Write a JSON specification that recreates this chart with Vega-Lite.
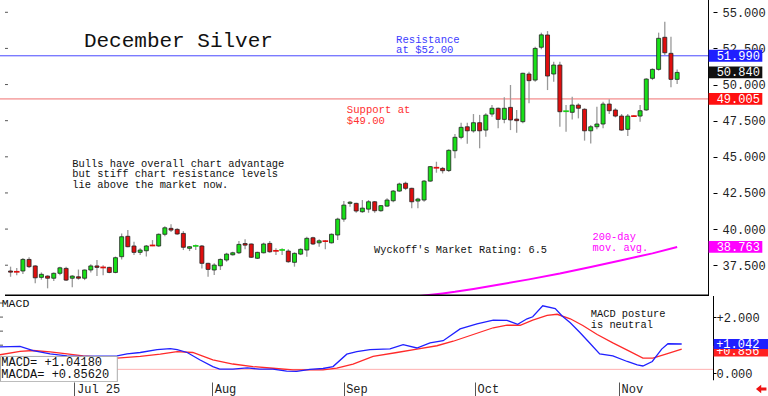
{
"$schema": "https://vega.github.io/schema/vega-lite/v6.json",
"padding": 0,
"spacing": 0,
"background": "white",
"config": {"view": {"stroke": null}, "font": "Liberation Mono", "text": {"font": "Liberation Mono"}, "axis": {"grid": false, "labelFont": "Liberation Mono", "labelFontSize": 12, "labelColor": "#222"}},
"datasets": {
"candles": [
{"i":1,"o":37.1,"h":37.4,"l":36.7,"c":37.02},{"i":2,"o":37.05,"h":37.3,"l":36.8,"c":37.04},{"i":3,"o":37.1,"h":38.0,"l":36.9,"c":37.9},{"i":4,"o":37.9,"h":38.05,"l":37.3,"c":37.4},{"i":5,"o":37.45,"h":37.5,"l":36.25,"c":36.63},{"i":6,"o":36.66,"h":37.0,"l":36.5,"c":36.87},{"i":7,"o":36.75,"h":36.8,"l":35.9,"c":36.6},{"i":8,"o":36.6,"h":37.0,"l":36.4,"c":36.94},{"i":9,"o":36.94,"h":37.4,"l":36.8,"c":37.32},{"i":10,"o":37.28,"h":37.4,"l":36.4,"c":36.47},
{"i":11,"o":36.6,"h":36.8,"l":35.97,"c":36.75},{"i":12,"o":36.7,"h":37.2,"l":36.5,"c":36.6},{"i":13,"o":36.6,"h":37.2,"l":36.47,"c":37.17},{"i":14,"o":37.17,"h":37.56,"l":37.0,"c":37.45},{"i":15,"o":37.45,"h":37.86,"l":36.75,"c":37.35},{"i":16,"o":37.35,"h":37.5,"l":36.8,"c":37.34},{"i":17,"o":37.35,"h":37.4,"l":36.94,"c":37.0},{"i":18,"o":37.0,"h":38.1,"l":36.94,"c":38.02},{"i":19,"o":38.09,"h":39.7,"l":37.9,"c":39.47},{"i":20,"o":39.5,"h":39.93,"l":38.74,"c":38.78},
{"i":21,"o":38.83,"h":39.12,"l":38.2,"c":38.39},{"i":22,"o":38.39,"h":38.67,"l":38.2,"c":38.55},{"i":23,"o":38.5,"h":38.9,"l":38.1,"c":38.83},{"i":24,"o":38.87,"h":39.24,"l":38.82,"c":38.86},{"i":25,"o":38.83,"h":39.7,"l":38.78,"c":39.64},{"i":26,"o":39.64,"h":40.2,"l":39.5,"c":40.09},{"i":27,"o":40.05,"h":40.33,"l":39.8,"c":39.93},{"i":28,"o":39.98,"h":40.05,"l":39.6,"c":39.66},{"i":29,"o":39.7,"h":39.86,"l":38.55,"c":38.74},{"i":30,"o":38.67,"h":38.82,"l":38.48,"c":38.78},
{"i":31,"o":38.83,"h":38.94,"l":38.55,"c":38.84},{"i":32,"o":38.83,"h":38.9,"l":37.28,"c":37.63},{"i":33,"o":37.63,"h":37.67,"l":36.7,"c":37.21},{"i":34,"o":37.17,"h":37.63,"l":36.82,"c":37.51},{"i":35,"o":37.46,"h":37.97,"l":37.17,"c":37.9},{"i":36,"o":37.86,"h":38.36,"l":37.74,"c":38.27},{"i":37,"o":38.22,"h":38.43,"l":38.18,"c":38.36},{"i":38,"o":38.36,"h":39.17,"l":38.27,"c":38.94},{"i":39,"o":39.0,"h":39.29,"l":38.6,"c":38.89},{"i":40,"o":38.97,"h":39.0,"l":38.0,"c":38.05},
{"i":41,"o":37.98,"h":38.43,"l":37.93,"c":38.39},{"i":42,"o":38.36,"h":39.06,"l":38.32,"c":38.97},{"i":43,"o":39.01,"h":39.17,"l":38.36,"c":38.43},{"i":44,"o":38.5,"h":38.67,"l":38.2,"c":38.49},{"i":45,"o":38.55,"h":38.67,"l":38.2,"c":38.56},{"i":46,"o":38.48,"h":38.6,"l":37.67,"c":37.74},{"i":47,"o":37.7,"h":38.39,"l":37.4,"c":38.32},{"i":48,"o":38.27,"h":38.67,"l":38.2,"c":38.6},{"i":49,"o":38.55,"h":39.47,"l":38.09,"c":39.36},{"i":50,"o":39.4,"h":39.47,"l":38.9,"c":38.97},
{"i":51,"o":39.05,"h":39.29,"l":38.78,"c":39.19},{"i":52,"o":39.17,"h":39.24,"l":38.6,"c":39.16},{"i":53,"o":39.05,"h":39.7,"l":39.0,"c":39.64},{"i":54,"o":39.59,"h":40.78,"l":39.24,"c":40.69},{"i":55,"o":40.69,"h":41.94,"l":40.51,"c":41.66},{"i":56,"o":41.78,"h":41.94,"l":41.55,"c":41.86},{"i":57,"o":41.78,"h":41.82,"l":41.13,"c":41.25},{"i":58,"o":41.2,"h":42.01,"l":41.13,"c":41.45},{"i":59,"o":41.38,"h":42.01,"l":41.13,"c":41.89},{"i":60,"o":41.89,"h":41.94,"l":41.13,"c":41.27},
{"i":61,"o":41.27,"h":41.66,"l":41.2,"c":41.62},{"i":62,"o":41.59,"h":42.13,"l":41.55,"c":42.01},{"i":63,"o":41.96,"h":42.7,"l":41.85,"c":42.63},{"i":64,"o":42.63,"h":43.21,"l":42.58,"c":43.12},{"i":65,"o":43.17,"h":43.28,"l":42.7,"c":42.82},{"i":66,"o":42.82,"h":42.86,"l":41.44,"c":41.89},{"i":67,"o":41.94,"h":42.17,"l":41.44,"c":42.08},{"i":68,"o":42.01,"h":43.39,"l":41.89,"c":43.32},{"i":69,"o":43.32,"h":44.36,"l":43.28,"c":44.32},{"i":70,"o":44.25,"h":44.66,"l":43.9,"c":44.24},
{"i":71,"o":44.2,"h":44.3,"l":43.85,"c":44.04},{"i":72,"o":44.05,"h":45.52,"l":43.95,"c":45.45},{"i":73,"o":45.42,"h":46.58,"l":44.9,"c":46.35},{"i":74,"o":46.35,"h":47.36,"l":46.21,"c":47.04},{"i":75,"o":47.08,"h":47.36,"l":45.9,"c":46.8},{"i":76,"o":46.79,"h":47.96,"l":46.67,"c":47.36},{"i":77,"o":47.36,"h":47.9,"l":45.59,"c":46.8},{"i":78,"o":46.85,"h":48.01,"l":46.39,"c":47.89},{"i":79,"o":47.96,"h":48.58,"l":47.78,"c":48.36},{"i":80,"o":48.36,"h":48.42,"l":46.97,"c":47.59},
{"i":81,"o":47.59,"h":49.12,"l":47.32,"c":48.36},{"i":82,"o":48.42,"h":49.97,"l":46.85,"c":47.55},{"i":83,"o":47.61,"h":48.24,"l":46.67,"c":47.5},{"i":84,"o":47.43,"h":50.82,"l":47.32,"c":50.78},{"i":85,"o":50.73,"h":50.89,"l":48.7,"c":50.27},{"i":86,"o":50.31,"h":52.62,"l":50.2,"c":52.5},{"i":87,"o":52.58,"h":53.59,"l":52.44,"c":53.44},{"i":88,"o":53.43,"h":53.7,"l":49.62,"c":50.59},{"i":89,"o":50.73,"h":51.58,"l":50.2,"c":51.35},{"i":90,"o":51.35,"h":51.58,"l":47.08,"c":48.12},
{"i":91,"o":48.15,"h":48.58,"l":46.74,"c":48.16},{"i":92,"o":48.08,"h":49.16,"l":47.59,"c":48.58},{"i":93,"o":48.58,"h":48.7,"l":47.66,"c":48.36},{"i":94,"o":48.29,"h":48.36,"l":46.12,"c":46.8},{"i":95,"o":46.8,"h":47.2,"l":45.93,"c":47.08},{"i":96,"o":47.08,"h":48.47,"l":46.9,"c":47.27},{"i":97,"o":47.27,"h":48.81,"l":46.97,"c":48.65},{"i":98,"o":48.65,"h":48.98,"l":47.96,"c":48.19},{"i":99,"o":48.24,"h":48.36,"l":47.73,"c":47.82},{"i":100,"o":47.82,"h":47.96,"l":46.8,"c":46.85},
{"i":101,"o":46.9,"h":47.96,"l":46.44,"c":47.82},{"i":102,"o":47.82,"h":47.9,"l":47.75,"c":47.81},{"i":103,"o":47.82,"h":48.58,"l":47.43,"c":48.19},{"i":104,"o":48.24,"h":50.43,"l":48.19,"c":50.38},{"i":105,"o":50.43,"h":51.12,"l":50.31,"c":51.05},{"i":106,"o":51.05,"h":53.59,"l":50.96,"c":53.2},{"i":107,"o":53.27,"h":54.35,"l":52.04,"c":52.2},{"i":108,"o":52.16,"h":53.31,"l":49.81,"c":50.36},{"i":109,"o":50.36,"h":51.05,"l":50.04,"c":50.84}
],
"ma": [{"i":65,"v":35.25},{"i":68,"v":35.4},{"i":71,"v":35.55},{"i":73,"v":35.66},{"i":76,"v":35.86},{"i":80,"v":36.15},{"i":85,"v":36.52},{"i":90,"v":36.92},{"i":95,"v":37.38},{"i":100,"v":37.85},{"i":105,"v":38.32},{"i":109,"v":38.763}],
"macd": [{"k":0.1,"v":0.94},{"k":3.3,"v":0.96},{"k":5.4,"v":0.81},{"k":8.1,"v":0.69},{"k":10.8,"v":0.62},{"k":12.9,"v":0.6},{"k":18.8,"v":0.62},{"k":20.4,"v":0.69},{"k":22.5,"v":0.74},{"k":25.2,"v":0.84},{"k":27.3,"v":0.88},{"k":28.4,"v":0.84},{"k":30,"v":0.74},{"k":32,"v":0.48},{"k":34.1,"v":0.24},{"k":35.2,"v":0.15},{"k":37.3,"v":0.15},{"k":39.6,"v":0.19},{"k":41.6,"v":0.15},{"k":43.7,"v":0.15},{"k":45.9,"v":0.08},{"k":47.5,"v":0.07},{"k":49.6,"v":0.14},{"k":51.7,"v":0.17},{"k":53.3,"v":0.24},{"k":55.5,"v":0.68},{"k":57.1,"v":0.77},{"k":59.2,"v":0.84},{"k":61.3,"v":0.86},{"k":62.4,"v":0.87},{"k":64.5,"v":1.02},{"k":66.7,"v":0.9},{"k":68.8,"v":1.08},{"k":70.9,"v":1.16},{"k":73.6,"v":1.58},{"k":76.3,"v":1.76},{"k":78.9,"v":1.89},{"k":81.1,"v":1.88},{"k":82.8,"v":1.74},{"k":84.3,"v":1.94},{"k":85.2,"v":2.01},{"k":86.8,"v":2.4},{"k":88.8,"v":2.3},{"k":89.9,"v":2.04},{"k":91.2,"v":1.8},{"k":92.7,"v":1.46},{"k":94.3,"v":1.08},{"k":95.9,"v":0.69},{"k":98,"v":0.62},{"k":100.3,"v":0.42},{"k":101.9,"v":0.3},{"k":102.8,"v":0.26},{"k":104.3,"v":0.42},{"k":105.8,"v":0.86},{"k":106.8,"v":1.05},{"k":109,"v":1.042}],
"signal": [{"k":0.1,"v":0.66},{"k":3.3,"v":0.78},{"k":5.4,"v":0.81},{"k":8.1,"v":0.76},{"k":10.8,"v":0.69},{"k":13.4,"v":0.62},{"k":18.8,"v":0.54},{"k":22.5,"v":0.6},{"k":25.7,"v":0.68},{"k":28.4,"v":0.77},{"k":30.9,"v":0.74},{"k":34.1,"v":0.48},{"k":37.3,"v":0.33},{"k":40.5,"v":0.24},{"k":43.7,"v":0.18},{"k":46.9,"v":0.12},{"k":49.6,"v":0.12},{"k":51.7,"v":0.12},{"k":53.9,"v":0.18},{"k":56.5,"v":0.33},{"k":59.7,"v":0.6},{"k":63.5,"v":0.74},{"k":66.7,"v":0.86},{"k":69.9,"v":0.98},{"k":72.5,"v":1.14},{"k":75.7,"v":1.38},{"k":78.9,"v":1.62},{"k":81.1,"v":1.71},{"k":83.2,"v":1.71},{"k":85.2,"v":1.89},{"k":87.5,"v":2.06},{"k":89.1,"v":2.1},{"k":91.2,"v":1.94},{"k":93.2,"v":1.7},{"k":95.5,"v":1.38},{"k":98,"v":1.08},{"k":100.7,"v":0.78},{"k":102.8,"v":0.54},{"k":104.4,"v":0.54},{"k":106.6,"v":0.69},{"k":109,"v":0.856}],
"ptick": [{"v":37.5},{"v":40},{"v":42.5},{"v":45},{"v":47.5},{"v":50},{"v":52.5},{"v":55}],
"mtick": [{"v":0},{"v":0.5},{"v":1},{"v":1.5},{"v":2},{"v":2.5}]
},
"vconcat": [
{
"width": 713, "height": 296,
"layer": [
{"data": {"values": [{"v": 51.99}]}, "mark": {"type": "rule", "color": "#4848ff", "strokeWidth": 1, "clip": true}, "encoding": {"y": {"field": "v", "type": "quantitative", "title": null, "scale": {"domain": [35.37, 55.85], "nice": false, "zero": false}}}},
{"data": {"values": [{"v": 49.005}]}, "mark": {"type": "rule", "color": "#f07070", "strokeWidth": 1, "clip": true}, "encoding": {"y": {"field": "v", "type": "quantitative", "title": null, "scale": {"domain": [35.37, 55.85], "nice": false, "zero": false}}}},
{"data": {"name": "ptick"}, "mark": {"type": "rule", "color": "#555", "strokeWidth": 1, "clip": true}, "encoding": {"x": {"datum": 0.1, "type": "quantitative", "scale": {"domain": [0.1, 114], "nice": false, "zero": false}}, "x2": {"datum": 0.58}, "y": {"field": "v", "type": "quantitative", "title": null, "scale": {"domain": [35.37, 55.85], "nice": false, "zero": false}}}},
{"data": {"name": "ma"}, "mark": {"type": "line", "color": "#ff00ff", "strokeWidth": 2, "clip": true}, "encoding": {"x": {"field": "i", "type": "quantitative", "title": null, "scale": {"domain": [0.1, 114], "nice": false, "zero": false}}, "y": {"field": "v", "type": "quantitative", "title": null, "scale": {"domain": [35.37, 55.85], "nice": false, "zero": false}}}},
{"data": {"name": "candles"}, "mark": {"type": "rule", "color": "#999999", "strokeWidth": 1.3},
 "encoding": {
  "x": {"field": "i", "type": "quantitative", "title": null, "scale": {"domain": [0.1, 114], "nice": false, "zero": false}, "axis": null},
  "y": {"field": "l", "type": "quantitative", "title": null, "scale": {"domain": [35.37, 55.85], "nice": false, "zero": false}, "axis": {"orient": "right", "values": [37.5, 40, 42.5, 45, 47.5, 50, 52.5, 55], "format": ".3f", "domain": false, "tickSize": 4, "tickColor": "#000", "labelPadding": 5, "labelFontSize": 12, "labelColor": "#222", "title": null}},
  "y2": {"field": "h"}}},
{"data": {"name": "candles"}, "mark": {"type": "bar", "size": 4},
 "encoding": {
  "x": {"field": "i", "type": "quantitative", "title": null, "scale": {"domain": [0.1, 114], "nice": false, "zero": false}},
  "y": {"field": "o", "type": "quantitative", "title": null, "scale": {"domain": [35.37, 55.85], "nice": false, "zero": false}},
  "y2": {"field": "c"},
  "fill": {"condition": {"test": "datum.c >= datum.o", "value": "#18e018"}, "value": "#e00e0e"},
  "stroke": {"condition": [{"test": "abs(datum.c - datum.o) < 0.02 && datum.c > datum.o", "value": "#18d018"}, {"test": "abs(datum.c - datum.o) < 0.02", "value": "#e00e0e"}], "value": "#222"},
  "strokeWidth": {"condition": {"test": "abs(datum.c - datum.o) < 0.02", "value": 1.6}, "value": 0.8}}},
{"data": {"values": [{}]}, "mark": {"type": "rect", "color": "#000"}, "encoding": {"x": {"datum": 0.1, "type": "quantitative"}, "x2": {"datum": 114.16}, "y": {"datum": 35.37, "type": "quantitative"}, "y2": {"datum": 35.47}}},
{"data": {"values": [{}]}, "mark": {"type": "rect", "color": "#000"}, "encoding": {"x": {"datum": 114.0, "type": "quantitative"}, "x2": {"datum": 114.16}, "y": {"datum": 35.37, "type": "quantitative"}, "y2": {"datum": 55.85}}},
{"data": {"values": [{}]}, "mark": {"type": "text", "fontSize": 21, "align": "left", "baseline": "alphabetic", "color": "#111"}, "encoding": {"x": {"datum": 12.88, "type": "quantitative"}, "y": {"datum": 52.62, "type": "quantitative"}, "text": {"value": "December Silver"}}},
{"data": {"values": [{}]}, "mark": {"type": "text", "fontSize": 10.6, "align": "left", "baseline": "alphabetic", "color": "#3c3cff", "lineHeight": 10}, "encoding": {"x": {"datum": 63.47, "type": "quantitative"}, "y": {"datum": 52.87, "type": "quantitative"}, "text": {"value": ["Resistance", "at $52.00"]}}},
{"data": {"values": [{}]}, "mark": {"type": "text", "fontSize": 10.6, "align": "left", "baseline": "alphabetic", "color": "#ff3030", "lineHeight": 10.5}, "encoding": {"x": {"datum": 55.48, "type": "quantitative"}, "y": {"datum": 48.01, "type": "quantitative"}, "text": {"value": ["Support at", "$49.00"]}}},
{"data": {"values": [{}]}, "mark": {"type": "text", "fontSize": 10.4, "align": "left", "baseline": "alphabetic", "color": "#111", "lineHeight": 10.7}, "encoding": {"x": {"datum": 11.01, "type": "quantitative"}, "y": {"datum": 44.33, "type": "quantitative"}, "text": {"value": ["Bulls have overall chart advantage", "but stiff chart resistance levels", "lie above the market now."]}}},
{"data": {"values": [{}]}, "mark": {"type": "text", "fontSize": 10.3, "align": "left", "baseline": "alphabetic", "color": "#111"}, "encoding": {"x": {"datum": 59.89, "type": "quantitative"}, "y": {"datum": 38.34, "type": "quantitative"}, "text": {"value": "Wyckoff's Market Rating: 6.5"}}},
{"data": {"values": [{}]}, "mark": {"type": "text", "fontSize": 10.3, "align": "left", "baseline": "alphabetic", "color": "#ff00ff", "lineHeight": 11}, "encoding": {"x": {"datum": 95.3, "type": "quantitative"}, "y": {"datum": 39.24, "type": "quantitative"}, "text": {"value": ["200-day", "mov. avg."]}}},
{"data": {"values": [{}]}, "mark": {"type": "rect", "color": "#1f1fff"}, "encoding": {"x": {"datum": 114.1, "type": "quantitative"}, "x2": {"datum": 122.8}, "y": {"datum": 51.58, "type": "quantitative"}, "y2": {"datum": 52.4}}},
{"data": {"values": [{}]}, "mark": {"type": "rect", "color": "#111"}, "encoding": {"x": {"datum": 114.1, "type": "quantitative"}, "x2": {"datum": 122.8}, "y": {"datum": 50.43, "type": "quantitative"}, "y2": {"datum": 51.25}}},
{"data": {"values": [{}]}, "mark": {"type": "rect", "color": "#ff1010"}, "encoding": {"x": {"datum": 114.1, "type": "quantitative"}, "x2": {"datum": 122.8}, "y": {"datum": 48.6, "type": "quantitative"}, "y2": {"datum": 49.41}}},
{"data": {"values": [{}]}, "mark": {"type": "rect", "color": "#ff00ff"}, "encoding": {"x": {"datum": 114.1, "type": "quantitative"}, "x2": {"datum": 122.8}, "y": {"datum": 38.36, "type": "quantitative"}, "y2": {"datum": 39.17}}},
{"data": {"values": [{}]}, "mark": {"type": "text", "fontSize": 12, "align": "left", "baseline": "middle", "color": "white"}, "encoding": {"x": {"datum": 115.4, "type": "quantitative"}, "y": {"datum": 51.99, "type": "quantitative"}, "text": {"value": "51.990"}}},
{"data": {"values": [{}]}, "mark": {"type": "text", "fontSize": 12, "align": "left", "baseline": "middle", "color": "white"}, "encoding": {"x": {"datum": 115.4, "type": "quantitative"}, "y": {"datum": 50.84, "type": "quantitative"}, "text": {"value": "50.840"}}},
{"data": {"values": [{}]}, "mark": {"type": "text", "fontSize": 12, "align": "left", "baseline": "middle", "color": "white"}, "encoding": {"x": {"datum": 115.4, "type": "quantitative"}, "y": {"datum": 49.005, "type": "quantitative"}, "text": {"value": "49.005"}}},
{"data": {"values": [{}]}, "mark": {"type": "text", "fontSize": 12, "align": "left", "baseline": "middle", "color": "white"}, "encoding": {"x": {"datum": 115.4, "type": "quantitative"}, "y": {"datum": 38.763, "type": "quantitative"}, "text": {"value": "38.763"}}}
]
},
{
"width": 713, "height": 86,
"layer": [
{"data": {"values": [{"v": 0.14}]}, "mark": {"type": "rule", "color": "#ffb0b0", "strokeWidth": 1, "clip": true}, "encoding": {"y": {"field": "v", "type": "quantitative", "title": null, "scale": {"domain": [-0.31, 2.75], "nice": false, "zero": false}}}},
{"data": {"name": "mtick"}, "mark": {"type": "rule", "color": "#555", "strokeWidth": 1, "clip": true}, "encoding": {"x": {"datum": 0.1, "type": "quantitative", "scale": {"domain": [0.1, 114], "nice": false, "zero": false}}, "x2": {"datum": 0.58}, "y": {"field": "v", "type": "quantitative", "title": null, "scale": {"domain": [-0.31, 2.75], "nice": false, "zero": false}}}},
{"data": {"name": "signal"}, "mark": {"type": "line", "color": "#ff2a2a", "strokeWidth": 1.3, "clip": true}, "encoding": {"x": {"field": "k", "type": "quantitative", "title": null, "scale": {"domain": [0.1, 114], "nice": false, "zero": false}}, "y": {"field": "v", "type": "quantitative", "title": null, "scale": {"domain": [-0.31, 2.75], "nice": false, "zero": false}}}},
{"data": {"name": "macd"}, "mark": {"type": "line", "color": "#2020ff", "strokeWidth": 1.3, "clip": true},
 "encoding": {
  "x": {"field": "k", "type": "quantitative", "title": null, "scale": {"domain": [0.1, 114], "nice": false, "zero": false}, "axis": {"orient": "bottom", "values": [12, 34, 55, 76, 99], "labelExpr": "datum.value == 12 ? 'Jul 25' : datum.value == 34 ? 'Aug' : datum.value == 55 ? 'Sep' : datum.value == 76 ? 'Oct' : 'Nov'", "domain": false, "tickSize": 14, "tickColor": "#555", "labelAlign": "left", "labelBaseline": "top", "labelPadding": -13, "labelOffset": 2, "labelOverlap": false, "labelFlush": false, "labelFontSize": 12, "labelColor": "#222", "title": null}},
  "y": {"field": "v", "type": "quantitative", "title": null, "scale": {"domain": [-0.31, 2.75], "nice": false, "zero": false}, "axis": {"orient": "right", "values": [0, 0.5, 1, 1.5, 2, 2.5], "labelExpr": "datum.value == 2 ? '+2.000' : datum.value == 0 ? ' 0.000' : ''", "domain": false, "tickSize": 3, "tickColor": "#000", "labelPadding": 0, "labelAlign": "left", "labelFontSize": 12, "labelColor": "#222", "title": null}}}},
{"data": {"values": [{}]}, "mark": {"type": "rect", "color": "#000"}, "encoding": {"x": {"datum": 114.0, "type": "quantitative"}, "x2": {"datum": 114.16}, "y": {"datum": -0.25, "type": "quantitative"}, "y2": {"datum": 2.75}}},
{"data": {"values": [{}]}, "mark": {"type": "rect", "fill": "white", "stroke": "#aaaaaa", "strokeWidth": 1, "clip": true}, "encoding": {"x": {"datum": 0.18, "type": "quantitative"}, "x2": {"datum": 18.84}, "y": {"datum": -0.3, "type": "quantitative"}, "y2": {"datum": 0.6}}},
{"data": {"values": [{}]}, "mark": {"type": "text", "fontSize": 12, "align": "left", "baseline": "alphabetic", "color": "#111", "lineHeight": 12}, "encoding": {"x": {"datum": 0.3, "type": "quantitative"}, "y": {"datum": 0.26, "type": "quantitative"}, "text": {"value": ["MACD=  +1.04180", "MACDA= +0.85620"]}}},
{"data": {"values": [{}]}, "mark": {"type": "text", "fontSize": 11.5, "align": "left", "baseline": "alphabetic", "color": "#111"}, "encoding": {"x": {"datum": 0.37, "type": "quantitative"}, "y": {"datum": 2.35, "type": "quantitative"}, "text": {"value": "MACD"}}},
{"data": {"values": [{}]}, "mark": {"type": "text", "fontSize": 10.4, "align": "left", "baseline": "alphabetic", "color": "#111", "lineHeight": 11}, "encoding": {"x": {"datum": 94.46, "type": "quantitative"}, "y": {"datum": 1.99, "type": "quantitative"}, "text": {"value": ["MACD posture", "is neutral"]}}},
{"data": {"values": [{}]}, "mark": {"type": "rect", "color": "#ff2020"}, "encoding": {"x": {"datum": 114.1, "type": "quantitative"}, "x2": {"datum": 122.8}, "y": {"datum": 0.6, "type": "quantitative"}, "y2": {"datum": 0.98}}},
{"data": {"values": [{}]}, "mark": {"type": "text", "fontSize": 12, "align": "left", "baseline": "middle", "color": "white"}, "encoding": {"x": {"datum": 114.5, "type": "quantitative"}, "y": {"datum": 0.79, "type": "quantitative"}, "text": {"value": "+0.856"}}},
{"data": {"values": [{}]}, "mark": {"type": "rect", "color": "#1f1fff"}, "encoding": {"x": {"datum": 114.1, "type": "quantitative"}, "x2": {"datum": 122.8}, "y": {"datum": 0.86, "type": "quantitative"}, "y2": {"datum": 1.22}}},
{"data": {"values": [{}]}, "mark": {"type": "text", "fontSize": 12, "align": "left", "baseline": "middle", "color": "white"}, "encoding": {"x": {"datum": 114.5, "type": "quantitative"}, "y": {"datum": 1.042, "type": "quantitative"}, "text": {"value": "+1.042"}}},
{"data": {"values": [{}]}, "mark": {"type": "point", "shape": "M-1,0L0,-0.8L0,-0.3L1,-0.3L1,0.3L0,0.3L0,0.8Z", "filled": true, "color": "#ee1111", "size": 110, "opacity": 1}, "encoding": {"x": {"datum": 121.7, "type": "quantitative"}, "y": {"datum": -0.56, "type": "quantitative"}}}
]
}
]
}
